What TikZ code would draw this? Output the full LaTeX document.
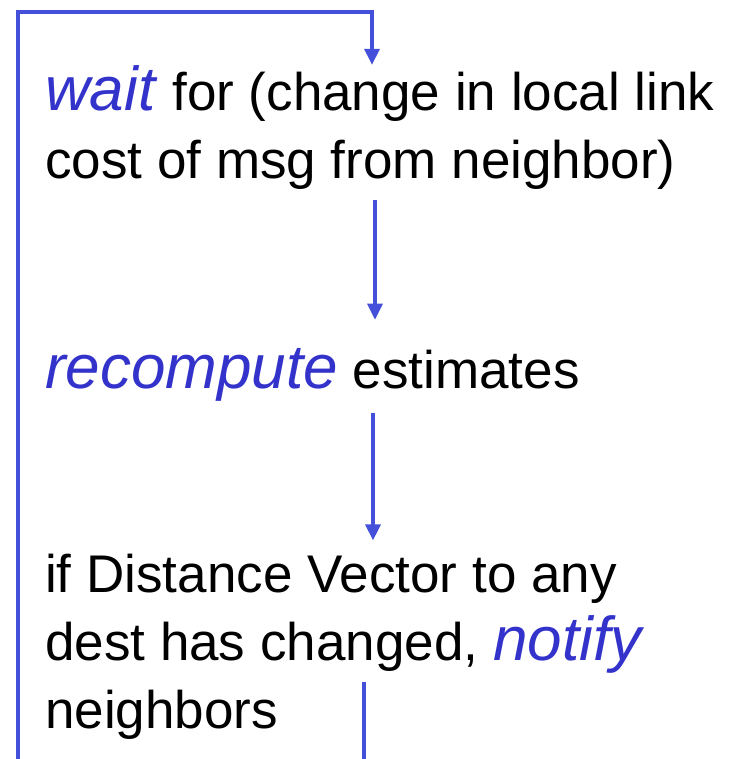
\documentclass[tikz,border=0pt]{standalone}
\usepackage{fontspec}
\setmainfont{Liberation Sans}
\usepackage{tikz}
\usetikzlibrary{arrows.meta}

\definecolor{actblue}{RGB}{51,51,204}
\definecolor{flowblue}{RGB}{68,80,218}

\newcommand{\act}[1]{{\fontsize{62}{68}\selectfont\textcolor{actblue}{\textit{#1}}}}

\begin{document}
\begin{tikzpicture}[x=1pt, y=-1pt,
  steptext/.style={inner sep=0pt, anchor=base west, align=left,
    font=\fontsize{53}{68}\selectfont},
  flow/.style={draw=flowblue, line width=3.2pt,
    -{Triangle[length=16pt, width=15pt]}}]

\useasboundingbox (0,0) rectangle (735,759);

% ======================
% Steps (anchored at the last baseline)
% ======================
\node[steptext] (wait) at (45,179)
{\act{wait} for (change in local link\\cost of msg from neighbor)};

\node[steptext] (recompute) at (45,388)
{\act{recompute} estimates};

\node[steptext] (notify) at (45,728)
{if Distance Vector to any\\dest has changed, \act{notify}\\neighbors};

% ======================
% Flow arrows
% ======================
\coordinate (down1) at (375,200);
\coordinate (down2) at (373,413);

\draw[flow, shorten >=28pt] (down1) -- (down1 |- recompute.north);
\draw[flow, shorten >=13pt] (down2) -- (down2 |- notify.north);

% ======================
% Loop back to wait
% ======================
\coordinate (loopout) at (364,682);
\coordinate (loopback) at (18,759);
\coordinate (entry) at (372,12);

\draw[flow, -] (loopout) -- (loopout |- loopback);
\draw[flow, shorten >=1pt] (loopback) |- (entry) -- (entry |- wait.north);

\end{tikzpicture}
\end{document}
